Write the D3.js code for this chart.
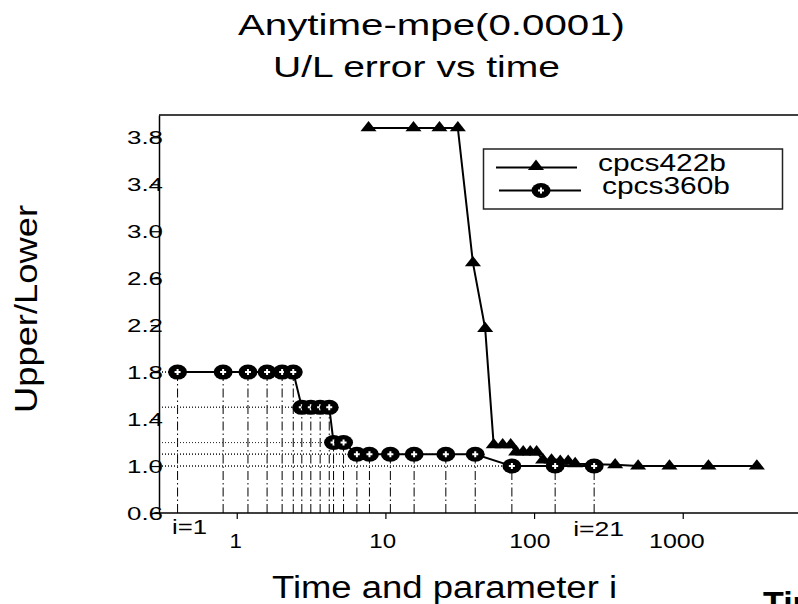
<!DOCTYPE html>
<html>
<head>
<meta charset="utf-8">
<script src="https://cdn.jsdelivr.net/npm/d3@7"></script>
<style>
  html, body { margin: 0; padding: 0; background: #fff; }
  svg { display: block; font-family: "Liberation Sans", Arial, sans-serif; }
</style>
</head>
<body>
<script>
// cpcs360b : one point per parameter i = 1..21
const time360 = [0.40, 0.81, 1.19, 1.60, 2.02, 2.40, 2.74, 3.15, 3.64, 4.19, 4.48, 5.23, 6.43, 7.81, 10.8, 15.6, 25.5, 40.2, 70.9, 138.6, 253.6];
const err360 = [1.8, 1.8, 1.8, 1.8, 1.8, 1.8, 1.5, 1.5, 1.5, 1.5, 1.2, 1.2, 1.1, 1.1, 1.1, 1.1, 1.1, 1.1, 1.0, 1.0, 1.0];

// cpcs422b
const time422 = [7.70, 15.45, 23.1, 30.7, 38.8, 46.9, 53.5, 61.5, 69.6, 75.8, 84.5, 94.2, 104, 115, 131, 150, 169.5, 189, 351, 501, 814, 1489, 3150];
const err422 = [3.88, 3.88, 3.88, 3.88, 2.73, 2.17, 1.18, 1.18, 1.18, 1.12, 1.12, 1.12, 1.12, 1.05, 1.05, 1.04, 1.04, 1.02, 1.01, 1.0, 1.0, 1.0, 1.0];

const xTicks = [1, 10, 100, 1000];
const yTicks = [0.6, 1.0, 1.4, 1.8, 2.2, 2.6, 3.0, 3.4, 3.8];
const seriesNames = ["cpcs422b", "cpcs360b"];
const titleLines = ["Anytime-mpe(0.0001)", "U/L error vs time"];

const width = 798, height = 604;

const x = d3.scaleLog().domain([0.3, 8000]).range([159, 817]);
const y = d3.scaleLinear().domain([0.6, 3.99]).range([513, 115]);

const svg = d3.select("body").append("svg")
  .attr("width", width).attr("height", height);

const d360 = time360.map((t, i) => ({ t, v: err360[i] }));
const d422 = time422.map((t, i) => ({ t, v: err422[i] }));

// drop lines for the i points
svg.append("g")
  .selectAll("line")
  .data(d360)
  .join("line")
  .attr("x1", d => x(d.t)).attr("x2", d => x(d.t))
  .attr("y1", y(0.6)).attr("y2", d => y(d.v))
  .attr("stroke", "#000").attr("stroke-width", 1)
  .attr("stroke-dasharray", "9,3,1.5,3");

svg.append("g")
  .selectAll("line")
  .data(d360)
  .join("line")
  .attr("x1", x(0.3)).attr("x2", d => x(d.t))
  .attr("y1", d => y(d.v)).attr("y2", d => y(d.v))
  .attr("stroke", "#333").attr("stroke-width", 1)
  .attr("stroke-dasharray", "1,2");

// frame: top line
svg.append("line")
  .attr("x1", x(0.3)).attr("x2", width)
  .attr("y1", y(3.99)).attr("y2", y(3.99))
  .attr("stroke", "#000").attr("stroke-width", 1.5);

// y axis
const yAxis = d3.axisLeft(y).tickValues(yTicks).tickSize(8).tickSizeOuter(0)
  .tickFormat(d3.format(".1f"));
const gy = svg.append("g").attr("transform", `translate(${x(0.3)},0)`).call(yAxis);
gy.select(".domain").attr("stroke-width", 1.5);
gy.selectAll(".tick line").attr("stroke-width", 1.2);
gy.selectAll(".tick text")
  .attr("x", -32).attr("dy", "0.35em")
  .attr("font-size", 17.5)
  .attr("font-family", "Liberation Sans, Arial, sans-serif")
  .attr("text-anchor", "start")
  .attr("textLength", 36).attr("lengthAdjust", "spacingAndGlyphs")
  .attr("fill", "#000");

// x axis
const xAxis = d3.axisBottom(x).tickValues(xTicks).tickSize(6).tickSizeOuter(0)
  .tickFormat(d3.format("d"));
const gx = svg.append("g").attr("transform", `translate(0,${y(0.6)})`).call(xAxis);
gx.select(".domain").attr("stroke-width", 1.5).attr("d", `M${x(0.3)},0H${width + 40}`);
gx.selectAll(".tick line").attr("stroke-width", 1.2);
gx.selectAll(".tick text")
  .attr("y", 35).attr("dy", 0)
  .attr("dx", d => -1.6 * String(d).length)
  .attr("font-size", 21)
  .attr("font-family", "Liberation Sans, Arial, sans-serif")
  .attr("textLength", d => 14.4 * String(d).length - 2)
  .attr("lengthAdjust", "spacingAndGlyphs")
  .attr("fill", "#000");

// i labels
svg.append("text").text("i=1")
  .attr("x", 172).attr("y", 534)
  .attr("font-size", 21).attr("textLength", 35).attr("lengthAdjust", "spacingAndGlyphs");
svg.append("text").text("i=21")
  .attr("x", x(time360[time360.length - 1]) - 21).attr("y", 536)
  .attr("font-size", 21).attr("textLength", 51).attr("lengthAdjust", "spacingAndGlyphs");

// series lines
const line = d3.line().x(d => x(d.t)).y(d => y(d.v));
svg.append("path").datum(d360).attr("d", line)
  .attr("fill", "none").attr("stroke", "#000").attr("stroke-width", 2);
svg.append("path").datum(d422).attr("d", line)
  .attr("fill", "none").attr("stroke", "#000").attr("stroke-width", 2);

// markers
const tri = d3.symbol().type(d3.symbolTriangle).size(85);
function circlePlus(g) {
  g.append("ellipse").attr("rx", 9.5).attr("ry", 7.5).attr("fill", "#000");
  g.append("path").attr("d", "M-3,0H3M0,-3V3")
    .attr("stroke", "#fff").attr("stroke-width", 2);
}

svg.append("g")
  .selectAll("path")
  .data(d422)
  .join("path")
  .attr("d", tri)
  .attr("transform", d => `translate(${x(d.t)},${y(d.v)}) scale(1.15,0.85)`)
  .attr("fill", "#000");

svg.append("g")
  .selectAll("g")
  .data(d360)
  .join("g")
  .attr("transform", d => `translate(${x(d.t)},${y(d.v)})`)
  .each(function() { circlePlus(d3.select(this)); });

// legend
const lg = svg.append("g");
lg.append("rect").attr("x", 483.5).attr("y", 149).attr("width", 299).attr("height", 60)
  .attr("fill", "#fff").attr("stroke", "#222").attr("stroke-width", 1.5);
lg.append("line").attr("x1", 496).attr("x2", 577).attr("y1", 167.5).attr("y2", 167.5)
  .attr("stroke", "#000").attr("stroke-width", 2);
lg.append("path").attr("d", tri).attr("transform", "translate(536,166.5) scale(1.15,0.85)");
lg.append("text").text(seriesNames[0]).attr("x", 598).attr("y", 170.5)
  .attr("font-size", 24).attr("textLength", 128).attr("lengthAdjust", "spacingAndGlyphs");
lg.append("line").attr("x1", 499).attr("x2", 581).attr("y1", 190.5).attr("y2", 190.5)
  .attr("stroke", "#000").attr("stroke-width", 2);
circlePlus(lg.append("g").attr("transform", "translate(541,190.5)"));
lg.append("text").text(seriesNames[1]).attr("x", 602).attr("y", 194)
  .attr("font-size", 23).attr("textLength", 128).attr("lengthAdjust", "spacingAndGlyphs");

// titles and labels
svg.append("text").text(titleLines[0]).attr("x", 238).attr("y", 35)
  .attr("font-size", 30).attr("textLength", 387).attr("lengthAdjust", "spacingAndGlyphs");
svg.append("text").text(titleLines[1]).attr("x", 273).attr("y", 77)
  .attr("font-size", 30).attr("textLength", 287).attr("lengthAdjust", "spacingAndGlyphs");

svg.append("text").text("Upper/Lower")
  .attr("transform", "translate(37,413) rotate(-90)")
  .attr("font-size", 31).attr("textLength", 208).attr("lengthAdjust", "spacingAndGlyphs");

svg.append("text").text("Time and parameter i").attr("x", 272).attr("y", 598)
  .attr("font-size", 31).attr("textLength", 345).attr("lengthAdjust", "spacingAndGlyphs");

// start of a neighbouring label, cut off by the picture edge as in the reference
svg.append("text").text("Time").attr("x", 763).attr("y", 615)
  .attr("font-size", 34).attr("font-weight", "bold");
</script>
</body>
</html>
